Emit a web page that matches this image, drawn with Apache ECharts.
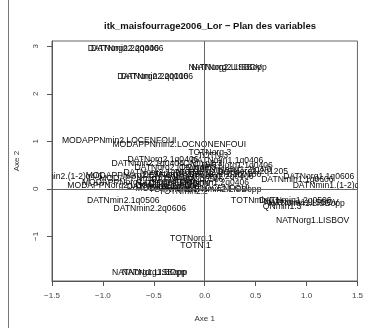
<!DOCTYPE html>
<html>
<head>
<meta charset="utf-8">
<script src="https://cdn.jsdelivr.net/npm/echarts@6/dist/echarts.min.js"></script>
<style>
  html, body { margin: 0; padding: 0; background: #fff; }
  #chart { width: 366px; height: 328px; }
</style>
</head>
<body>
<div id="chart"></div>
<script>
// variable names and their coordinates on the first two axes
const varNames = [
  "DATNorg2.2q0406", "DATNmin2.2q0406", "DATNorg2.2q0106", "DATNmin2.2q0106",
  "NATNorg2.LISBOV", "NATNorg2.LISBopp",
  "MODAPPNmin2.LOCENFOUI", "MODAPPNmin2.LOCNONENFOUI",
  "TOTNorg.3", "TOTN.3",
  "DATNmin2.(1-2)q4/6", "DATNmin2.1q0506", "DATNmin2.2q0606",
  "TOTNorg.1", "TOTN.1", "NATNorg1.LISBOV", "NATNorg1.LISBopp", "NATNorg1.BOpp",
  "DATNorg2.1q0406", "DATNmin2.1q0406", "DATNorg2.(1-2)q4/6",
  "DATNmin1.1q0406", "DATNorg1.1q0406", "DATNmin1.(1-2)q4/6", "DATNorg1.2q1205",
  "MODAPPNorg2.ENFOUI", "MODAPPNmin1.ENFOUI", "MODAPPNorg1.LOCENFOUI", "MODAPPNorg2.LOCNONENFOUI",
  "DATNorg2.2q0506", "DATNmin2.2q0506", "DATNorg1.2q0406", "DATNmin1.2q0406",
  "DATNorg1.1q0606", "DATNmin1.1q0606", "DATNmin1.(1-2)q1/2", "DATNmin2.1q0606",
  "TOTNmin2.1", "TOTNmin2.2", "MODAPPNmin1.LOCENFOUI", "NATNmin2.LISBOV", "NATNmin2.LISBopp",
  "NATNorg2.BOpp", "QNorg2.3", "QNmin2.3", "DATNorg2.1q0106", "DATNmin1.1q0106",
  "TOTNmin1.1", "DATNmin1.2q0506", "NATNmin1.LISBopp", "NATNmin1.LISBOV", "QNmin1.3"
];
const axe1 = [
  -0.80, -0.76, -0.51, -0.47,
  0.20, 0.24,
  -0.84, -0.25,
  0.05, 0.08,
  -1.39, -0.80, -0.54,
  -0.13, -0.09, 1.06, -0.54, -0.50,
  -0.41, -0.56, -0.31,
  0.22, 0.32, 0.27, 0.47,
  -0.70, -0.56, -0.65, -0.70,
  -0.26, -0.17, 0.13, 0.08,
  1.12, 0.91, 1.25, -0.41,
  -0.31, -0.21, -0.12, -0.31, 0.18,
  0.03, -0.07, -0.02, -0.45, 0.20,
  0.50, 0.89, 1.00, 0.95, 0.76
];
const axe2 = [
  2.95, 2.95, 2.37, 2.37,
  2.54, 2.54,
  1.01, 0.93,
  0.76, 0.70,
  0.25, -0.25, -0.41,
  -1.05, -1.20, -0.66, -1.77, -1.77,
  0.62, 0.54, 0.45,
  0.60, 0.49, 0.41, 0.37,
  0.27, 0.21, 0.12, 0.06,
  0.29, 0.19, 0.25, 0.14,
  0.25, 0.19, 0.06, 0.04,
  -0.02, -0.06, 0.00, 0.10, -0.02,
  0.33, 0.45, 0.52, 0.35, 0.30,
  -0.25, -0.25, -0.31, -0.29, -0.37
];
const xTicks = [-1.5, -1.0, -0.5, 0.0, 0.5, 1.0, 1.5];
const yTicks = [-1, 0, 1, 2, 3];

const chart = echarts.init(document.getElementById("chart"));

const points = varNames.map((n, i) => [axe1[i], axe2[i], n]);
const minus = (v) => String(v).replace("-", "\u2212");

const option = {
  backgroundColor: "#fff",
  animation: false,
  title: {
    text: "itk_maisfourrage2006_Lor \u2212 Plan des variables",
    left: 205,
    top: 16,
    textAlign: "center",
    textStyle: { fontFamily: "Liberation Sans", fontSize: 9.5, fontWeight: "bold", color: "#111" }
  },
  grid: {
    left: 52, right: 6, top: 41, bottom: 42,
    show: true, borderColor: "#666", borderWidth: 1
  },
  xAxis: {
    type: "value",
    min: -1.5, max: 1.5, interval: 0.5,
    name: "Axe 1", nameLocation: "middle", nameGap: 34,
    nameTextStyle: { fontFamily: "Liberation Sans", fontSize: 8, color: "#333" },
    axisLine: { show: true, onZero: false, lineStyle: { color: "#555" } },
    axisTick: { show: true, inside: false, length: 5, customValues: xTicks, lineStyle: { color: "#555" } },
    axisLabel: {
      fontFamily: "Liberation Sans", fontSize: 8, color: "#444", margin: 11,
      showMinLabel: true, showMaxLabel: true, customValues: xTicks,
      formatter: (v) => minus(v.toFixed(1))
    },
    splitLine: { show: false }
  },
  yAxis: {
    type: "value",
    min: -1.94, max: 3.11,
    name: "Axe 2", nameLocation: "middle", nameGap: 31,
    nameTextStyle: { fontFamily: "Liberation Sans", fontSize: 8, color: "#333" },
    axisLine: { show: true, onZero: false, lineStyle: { color: "#555" } },
    axisTick: { show: true, inside: false, length: 5, customValues: yTicks, lineStyle: { color: "#555" } },
    axisLabel: {
      fontFamily: "Liberation Sans", fontSize: 8, color: "#444", margin: 12, rotate: 90,
      customValues: yTicks,
      formatter: (v) => minus(v)
    },
    splitLine: { show: false }
  },
  graphic: [
    { type: "line", shape: { x1: 8.5, y1: 0, x2: 8.5, y2: 328 }, style: { stroke: "#777", lineWidth: 1 } }
  ],
  series: [
    {
      type: "custom",
      clip: true,
      data: points,
      encode: { x: 0, y: 1 },
      renderItem: (params, api) => {
        const p = api.coord([api.value(0), api.value(1)]);
        return {
          type: "text",
          x: p[0], y: p[1],
          style: {
            text: varNames[params.dataIndex],
            fill: "#0a0a0a",
            font: "8.6px 'Liberation Sans'",
            align: "center", verticalAlign: "middle",
            textAlign: "center", textVerticalAlign: "middle"
          }
        };
      },
      markLine: {
        silent: true,
        symbol: "none",
        label: { show: false },
        lineStyle: { color: "#666", width: 1, type: "solid" },
        data: [{ xAxis: 0 }, { yAxis: 0 }]
      }
    }
  ]
};

chart.setOption(option);
</script>
</body>
</html>
